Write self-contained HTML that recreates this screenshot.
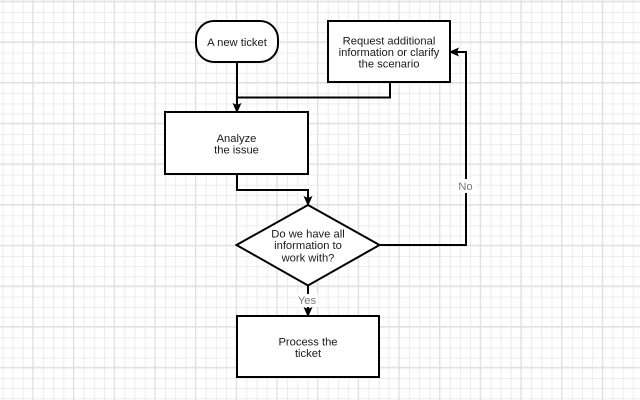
<!DOCTYPE html>
<html>
<head>
<meta charset="utf-8">
<style>
html,body{margin:0;padding:0;background:#fff;}
svg{display:block;}
text{font-family:"Liberation Sans",Arial,sans-serif;font-size:11.2px;fill:#1a1a1a;text-anchor:middle;}
.lbl{fill:#7a7a7a;}
</style>
</head>
<body>
<svg width="640" height="400" viewBox="0 0 640 400" xmlns="http://www.w3.org/2000/svg">
<defs>
<pattern id="minor" x="2.3" y="1.7" width="10.17" height="10.17" patternUnits="userSpaceOnUse">
<path d="M0.5 0 V10.17 M0 0.5 H10.17" stroke="#ececec" stroke-width="1" fill="none"/>
</pattern>
<pattern id="major" x="32.3" y="0.7" width="40.68" height="40.68" patternUnits="userSpaceOnUse">
<path d="M0.5 0 V40.68 M0 0.5 H40.68" stroke="#dedede" stroke-width="1" fill="none"/>
</pattern>
</defs>
<rect width="640" height="400" fill="#fff"/>
<rect width="640" height="400" fill="url(#minor)"/>
<rect width="640" height="400" fill="url(#major)"/>

<g stroke="#000" stroke-width="2" fill="none">
<!-- connectors -->
<path d="M237 62 V106"/>
<path d="M390 82 V97.5 H237"/>
<path d="M237 174 V190 H308 V199"/>
<path d="M379.5 245 H466 V52 H456"/>
<path d="M308 285.5 V310"/>
</g>

<g fill="#000" stroke="#000" stroke-width="1">
<polygon points="237,112 233.5,104 237,105.5 240.5,104"/>
<polygon points="308,205 304.5,197 308,198.5 311.5,197"/>
<polygon points="450,52 458,48.5 456.5,52 458,55.5"/>
<polygon points="308,316 304.5,308 308,309.5 311.5,308"/>
</g>

<!-- labels on connectors -->
<rect x="456" y="179" width="19" height="14" fill="#fff"/>
<text class="lbl" x="465.5" y="190">No</text>
<rect x="297" y="294" width="21" height="13" fill="#fff"/>
<text class="lbl" x="307" y="304">Yes</text>

<!-- shapes -->
<g stroke="#000" stroke-width="2" fill="#fff">
<rect x="196" y="21" width="82" height="41" rx="18" ry="18"/>
<rect x="328" y="21" width="122" height="61"/>
<rect x="165" y="112" width="143" height="62"/>
<polygon points="308,205 379.5,245 308,285.5 236.5,245"/>
<rect x="237" y="316" width="142" height="61"/>
</g>

<text x="237" y="46">A new ticket</text>

<text x="389" y="44.5">Request additional</text>
<text x="389" y="56">information or clarify</text>
<text x="389" y="67.5">the scenario</text>

<text x="236.5" y="142">Analyze</text>
<text x="236.5" y="153.5">the issue</text>

<text x="308" y="237.3">Do we have all</text>
<text x="308" y="249">information to</text>
<text x="308" y="261.3">work with?</text>

<text x="308" y="345.7">Process the</text>
<text x="308" y="357">ticket</text>
</svg>
</body>
</html>
